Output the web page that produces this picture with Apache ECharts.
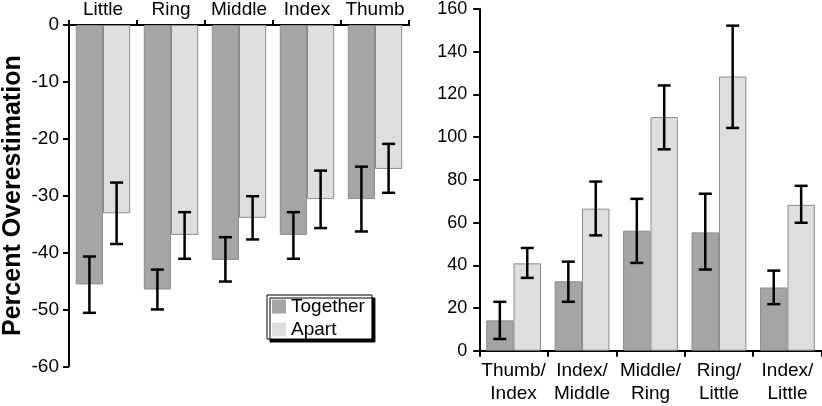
<!DOCTYPE html>
<html>
<head>
<meta charset="utf-8">
<script src="https://cdn.jsdelivr.net/npm/echarts@6/dist/echarts.min.js"></script>
<style>
    html, body { margin: 0; padding: 0; background: #fff; }
    #chart { width: 822px; height: 406px; }
</style>
</head>
<body>
<div id="chart"></div>
<script>
// left panel: single fingers
const fingers = ['Little', 'Ring', 'Middle', 'Index', 'Thumb'];
const togetherLeft = [-45.6, -46.5, -41.3, -36.9, -30.6];
const togetherLeftLow = [-50.6, -50.0, -45.1, -41.1, -36.3];
const togetherLeftHigh = [-40.7, -43.0, -37.3, -32.9, -24.9];
const apartLeft = [-33.1, -36.9, -33.9, -30.6, -25.3];
const apartLeftLow = [-38.5, -41.1, -37.7, -35.7, -29.5];
const apartLeftHigh = [-27.7, -32.9, -30.1, -25.6, -20.9];

// right panel: finger pairs
const pairs = ['Thumb/\nIndex', 'Index/\nMiddle', 'Middle/\nRing', 'Ring/\nLittle', 'Index/\nLittle'];
const togetherRight = [14.2, 32.5, 56.2, 55.4, 29.6];
const togetherRightLow = [5.5, 22.9, 41.1, 38.0, 21.8];
const togetherRightHigh = [22.9, 41.7, 71.1, 73.5, 37.5];
const apartRight = [40.9, 66.5, 109.4, 128.4, 68.3];
const apartRightLow = [34.1, 54.0, 94.3, 104.3, 59.9];
const apartRightHigh = [48.1, 79.2, 124.2, 152.2, 77.2];

const FONT = 'Liberation Sans';
const TOGETHER_COLOR = '#a5a5a5';
const APART_COLOR = '#dedede';

function errorData(low, high) {
    return low.map((v, i) => [i, v, high[i]]);
}

// shift = -1 for left bar of the pair, +1 for right bar
function errorBars(shift, idx, low, high) {
    return {
        type: 'custom',
        xAxisIndex: idx,
        yAxisIndex: idx,
        z: 5,
        silent: true,
        data: errorData(low, high),
        renderItem: function (params, api) {
            const band = api.size([1, 0])[0];
            const dx = shift * band * 0.2;
            const lo = api.coord([api.value(0), api.value(1)]);
            const hi = api.coord([api.value(0), api.value(2)]);
            const x = lo[0] + dx;
            const cap = 6.5;
            const style = { stroke: '#000', lineWidth: 2.5 };
            return {
                type: 'group',
                children: [
                    { type: 'line', shape: { x1: x, y1: lo[1], x2: x, y2: hi[1] }, style: style },
                    { type: 'line', shape: { x1: x - cap, y1: lo[1], x2: x + cap, y2: lo[1] }, style: style },
                    { type: 'line', shape: { x1: x - cap, y1: hi[1], x2: x + cap, y2: hi[1] }, style: style }
                ]
            };
        }
    };
}

function bar(name, idx, values, color) {
    return {
        name: name,
        type: 'bar',
        xAxisIndex: idx,
        yAxisIndex: idx,
        data: values,
        barGap: '0%',
        barCategoryGap: '20%',
        itemStyle: { color: color, borderColor: '#8c8c8c', borderWidth: 1 }
    };
}

const axisLine = { show: true, onZero: false, lineStyle: { color: '#000', width: 2 } };

const chart = echarts.init(document.getElementById('chart'));

chart.setOption({
    animation: false,
    backgroundColor: '#fff',
    grid: [
        { left: 65, top: 23.7, width: 344, height: 342.6 },
        { left: 479.3, top: 8.3, width: 342.4, height: 342.4 }
    ],
    legend: {
        data: ['Together', 'Apart'],
        orient: 'vertical',
        left: 267,
        top: 295,
        padding: [2, 7, 0, 5],
        itemGap: 4,
        itemWidth: 14,
        itemHeight: 14,
        icon: 'rect',
        itemStyle: { borderWidth: 0 },
        backgroundColor: '#fff',
        borderColor: '#000',
        borderWidth: 1,
        shadowColor: '#000',
        shadowBlur: 0,
        shadowOffsetX: 3,
        shadowOffsetY: 3,
        textStyle: { color: '#000', fontFamily: FONT, fontSize: 19, lineHeight: 19 }
    },
    xAxis: [{
        type: 'category',
        gridIndex: 0,
        position: 'top',
        data: fingers,
        axisLine: axisLine,
        axisTick: { show: true, length: 5, inside: false, lineStyle: { color: '#000', width: 2 } },
        axisLabel: { interval: 0, color: '#000', fontFamily: FONT, fontSize: 19, margin: 6 }
    }, {
        type: 'category',
        gridIndex: 1,
        data: pairs,
        axisLine: axisLine,
        axisTick: { show: true, length: 6, lineStyle: { color: '#000', width: 2 } },
        axisLabel: { interval: 0, color: '#000', fontFamily: FONT, fontSize: 19, lineHeight: 23, margin: 9 }
    }],
    yAxis: [{
        type: 'value',
        gridIndex: 0,
        min: -60,
        max: 0,
        interval: 10,
        name: 'Percent Overestimation',
        nameLocation: 'middle',
        nameRotate: 90,
        nameGap: 43,
        nameTextStyle: { color: '#000', fontFamily: FONT, fontSize: 25, fontWeight: 'bold' },
        axisLine: axisLine,
        axisTick: { show: true, length: 6, lineStyle: { color: '#000', width: 2 } },
        axisLabel: { margin: 10, color: '#000', fontFamily: FONT, fontSize: 19 },
        splitLine: { show: false }
    }, {
        type: 'value',
        gridIndex: 1,
        min: 0,
        max: 160,
        interval: 20,
        axisLine: axisLine,
        axisTick: { show: true, length: 6, lineStyle: { color: '#000', width: 2 } },
        axisLabel: { margin: 12, color: '#000', fontFamily: FONT, fontSize: 18 },
        splitLine: { show: false }
    }],
    series: [
        bar('Together', 0, togetherLeft, TOGETHER_COLOR),
        bar('Apart', 0, apartLeft, APART_COLOR),
        errorBars(-1, 0, togetherLeftLow, togetherLeftHigh),
        errorBars(1, 0, apartLeftLow, apartLeftHigh),
        bar('Together', 1, togetherRight, TOGETHER_COLOR),
        bar('Apart', 1, apartRight, APART_COLOR),
        errorBars(-1, 1, togetherRightLow, togetherRightHigh),
        errorBars(1, 1, apartRightLow, apartRightHigh)
    ]
});
</script>
</body>
</html>
